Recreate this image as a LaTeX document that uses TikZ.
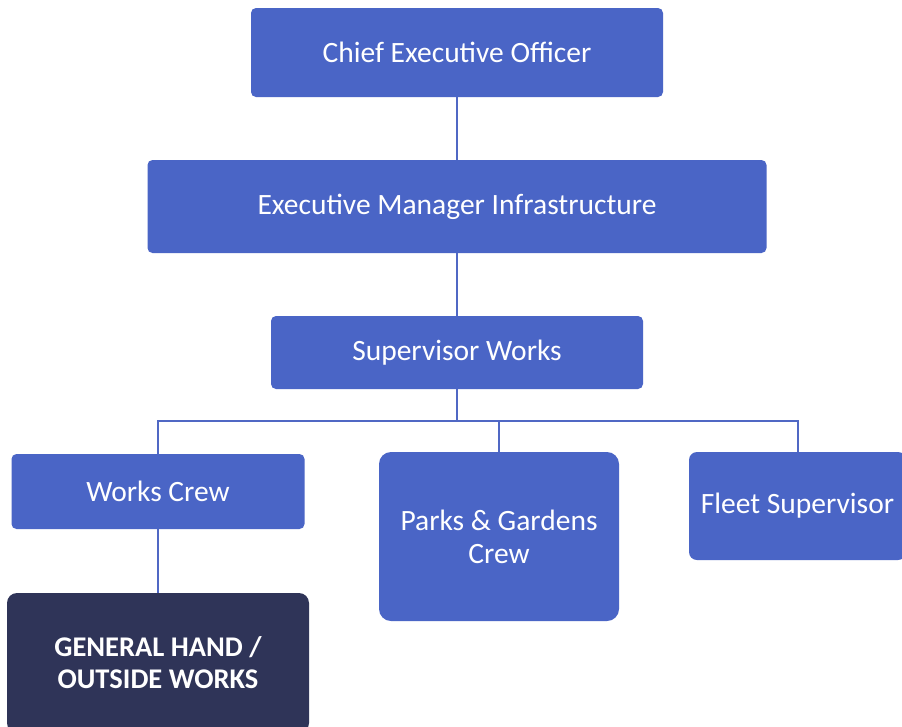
\documentclass[tikz,border=0pt]{standalone}
\usepackage{fontspec}
\setmainfont{Carlito}
\begin{document}
\begin{tikzpicture}[x=1pt,y=-1pt]
\definecolor{boxblue}{HTML}{4A65C6}
\definecolor{boxdark}{HTML}{2F3458}
\definecolor{linkblue}{HTML}{5068C4}
\tikzset{
  orgbox/.style={fill=boxblue, draw=none, rounded corners=5pt, text=white, font=\fontsize{29.5}{33}\selectfont, align=center, inner sep=0pt},
  darkbox/.style={orgbox, fill=boxdark, font=\bfseries\fontsize{28.5}{32}\selectfont},
  link/.style={draw=linkblue, line width=2pt}
}
\useasboundingbox (0,0) rectangle (902,726);
\fill[white] (0,0) rectangle (902,726);
\node[orgbox, minimum width=412pt, minimum height=89pt] (ceo) at (457,52.5) {Chief Executive Officer};
\node[orgbox, minimum width=619pt, minimum height=93pt] (emi) at (457,206.5) {Executive Manager Infrastructure};
\node[orgbox, minimum width=372pt, minimum height=73pt] (sw) at (457,352.5) {Supervisor Works};
\node[orgbox, minimum width=293pt, minimum height=75pt] (wc) at (158,491.5) {Works Crew};
\node[orgbox, rounded corners=12pt, minimum width=240pt, minimum height=169pt] (pg) at (499,536.5) {Parks \& Gardens\\Crew};
\node[orgbox, rounded corners=8pt, minimum width=217pt, minimum height=108pt] (fs) at (797.5,506) {Fleet Supervisor};
\node[darkbox, rounded corners=10pt, minimum width=302pt, minimum height=140pt] (gh) at (158,663) {GENERAL HAND /\\OUTSIDE WORKS};
\coordinate (hub) at (457,421);
\draw[link] (ceo.south) -- (emi.north);
\draw[link] (emi.south) -- (sw.north);
\draw[link] (sw.south) -- (hub);
\draw[link] (wc.north) |- (hub) -| (fs.north);
\draw[link] (pg.north) -- (pg.north |- hub);
\draw[link] (wc.south) -- (gh.north);
\end{tikzpicture}
\end{document}
